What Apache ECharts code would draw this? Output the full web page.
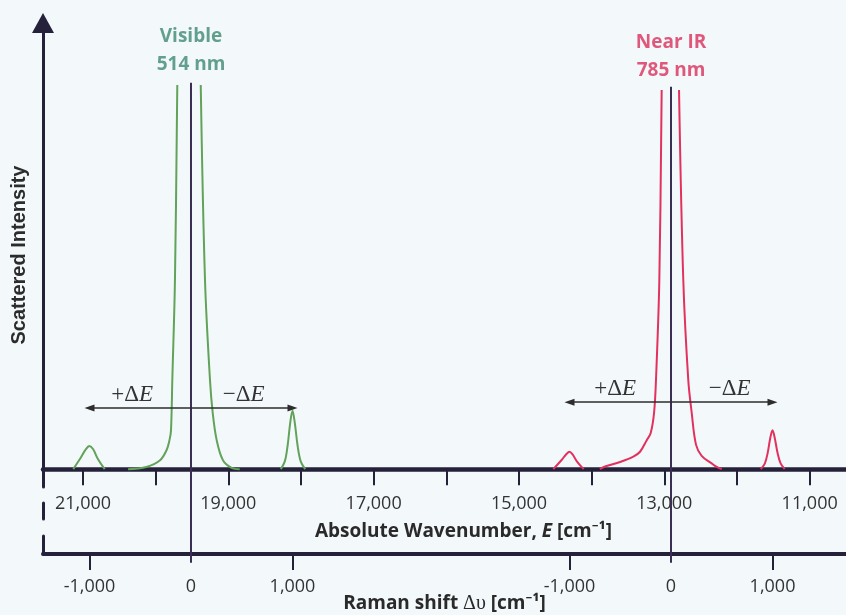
<!DOCTYPE html>
<html>
<head>
<meta charset="utf-8">
<script src="https://cdn.jsdelivr.net/npm/echarts@6/dist/echarts.min.js"></script>
<style>
  html, body { margin: 0; padding: 0; background: #f3f9fb; }
  #chart { width: 846px; height: 615px; }
</style>
</head>
<body>
<div id="chart"></div>
<script>
// Absolute wavenumber axis (cm^-1): tick marks every 1000, labels every 2000
const absoluteTicks = [21000, 20000, 19000, 18000, 17000, 16000, 15000, 14000, 13000, 12000, 11000];
const absoluteLabels = [21000, 19000, 17000, 15000, 13000, 11000];

// Raman shift axis (cm^-1), one copy centred on each laser line
const ramanTicks = [-1000, 1000];
const ramanLabels = [-1000, 0, 1000];

// Laser lines: label, top and bottom of the drawn line (intensity units)
const laserNames = ['Visible\n514 nm', 'Near IR\n785 nm'];
const laserTop = [86.6, 85.7];
const laserBottom = [-21, -21];

// Visible (514 nm) scattered spectrum vs Raman shift; null leaves a gap
const visibleShift = [-1160, -1085, -1035, -1000, -965, -920, -850, -735,
  -620, -440, -305, -240, -212, -197, -184, -158, -135, -20,
  96, 138, 187, 214, 253, 315, 400, 480, 680,
  885, 925, 952, 978, 1000, 1022, 1050, 1080, 1125];
const visibleIntensity = [0, 2.6, 4.5, 5.2, 4.5, 2.4, 0, null,
  0, 0.5, 2.0, 4.3, 6.5, 8.7, 20, 42.4, 86.1, null,
  86.1, 42.4, 20, 12.6, 6.5, 2.0, 0.3, 0, null,
  0, 1.8, 5.3, 10.5, 13.1, 10.5, 5.3, 1.8, 0];

// Near-IR (785 nm) scattered spectrum vs Raman shift
const nirShift = [-1160, -1080, -1030, -1000, -970, -920, -860, -780,
  -700, -650, -502, -371, -305, -239, -200, -167, -148, -115, -92, -5,
  79, 121, 170, 204, 246, 302, 400, 450, 500, 680,
  885, 925, 952, 978, 1000, 1022, 1050, 1080, 1120];
const nirIntensity = [0, 2.0, 3.4, 3.9, 3.3, 1.5, 0, null,
  0, 0.6, 1.6, 2.8, 3.9, 6.5, 8.1, 12.6, 20, 42.4, 85.0, null,
  85.0, 42.4, 20, 12.6, 5.5, 3.0, 1.3, 0.5, 0, null,
  0, 1.3, 3.6, 7.0, 8.7, 7.0, 3.6, 1.3, 0];

// Heights of the ±ΔE double arrows
const arrowLevel = [13.7, 15.0];
const arrowSpan = [-1000, 0, 1000];

const axisColor = '#26213a';
const laserColor = '#3a2f52';
const greenLine = '#62a25a';
const redLine = '#e3315f';
const greenText = '#3f8872';
const redText = '#d92f5c';
const ink = '#333333';
const sans = '"Open Sans", "Noto Sans", sans-serif';
const serif = '"Liberation Serif", "DejaVu Serif", serif';

const withCommas = v => String(Math.round(v)).replace(/\B(?=(\d{3})+(?!\d))/g, ',');
const pairs = (xs, ys) => xs.map((x, i) => [x, ys[i] == null ? '-' : ys[i]]);

function deltaArrows(level, shiftLeft, shiftRight) {
  const deltaRich = {
    n: { fontFamily: serif, fontSize: 23, color: '#333' },
    i: { fontFamily: serif, fontSize: 23, fontStyle: 'italic', color: '#333' }
  };
  return {
    silent: true,
    symbolSize: [7, 10],
    lineStyle: { color: '#2d2d2d', width: 1.5, type: 'solid' },
    label: { show: true, position: 'middle', distance: 2, rich: deltaRich },
    emphasis: { disabled: true },
    data: [
      [
        { coord: [arrowSpan[0], level], symbol: 'triangle',
          label: { formatter: '{n|+Δ}{i|E}', offset: [shiftLeft, 0] } },
        { coord: [arrowSpan[1], level], symbol: 'none' }
      ],
      [
        { coord: [arrowSpan[1], level], symbol: 'none',
          label: { formatter: '{n|−Δ}{i|E}', offset: [shiftRight, 0] } },
        { coord: [arrowSpan[2], level], symbol: 'triangle' }
      ]
    ]
  };
}

function spectrum(axisIndex, xs, ys, color, level, shiftLeft, shiftRight) {
  return {
    type: 'line',
    xAxisIndex: axisIndex,
    yAxisIndex: 0,
    data: pairs(xs, ys),
    smooth: 0.35,
    showSymbol: false,
    connectNulls: false,
    lineStyle: { color: color, width: 2 },
    itemStyle: { color: color },
    z: 3,
    markLine: deltaArrows(level, shiftLeft, shiftRight)
  };
}

function laserLine(axisIndex, k) {
  return {
    type: 'line',
    xAxisIndex: axisIndex,
    yAxisIndex: 0,
    data: [[0, laserTop[k]], [0, laserBottom[k]]],
    showSymbol: false,
    clip: false,
    lineStyle: { color: laserColor, width: 2 },
    z: 4
  };
}

function laserLabel(axisIndex, k, color, dist) {
  return {
    type: 'scatter',
    xAxisIndex: axisIndex,
    yAxisIndex: 0,
    data: [[0, laserTop[k]]],
    symbolSize: 0,
    silent: true,
    label: {
      show: true,
      position: 'top',
      distance: dist,
      formatter: laserNames[k],
      color: color,
      fontFamily: sans,
      fontWeight: 'bold',
      fontSize: 19,
      lineHeight: 28,
      align: 'center'
    }
  };
}

const ramanAxisBase = {
  type: 'value',
  gridIndex: 0,
  position: 'bottom',
  offset: 67,
  splitLine: { show: false },
  axisTick: {
    show: true, customValues: ramanTicks, length: 16,
    lineStyle: { color: axisColor, width: 2 }
  },
  axisLabel: {
    show: true, customValues: ramanLabels, formatter: withCommas,
    margin: 24, fontSize: 18, color: ink, fontFamily: sans
  }
};

const plainAxisLine = { show: true, onZero: false, lineStyle: { color: axisColor, width: 3 } };

const option = {
  backgroundColor: '#f3f9fb',
  animation: false,
  grid: [
    { left: 43, right: 0, top: 23, bottom: 128, outerBoundsMode: 'none' },
    { left: 43, right: 0, top: 503, bottom: 96, outerBoundsMode: 'none' },
    { left: 43, right: 0, top: 536, bottom: 61, outerBoundsMode: 'none' }
  ],
  xAxis: [
    {
      type: 'value',
      gridIndex: 0,
      position: 'bottom',
      inverse: true,
      min: 10500,
      max: 21550,
      splitLine: { show: false },
      axisLine: { show: true, onZero: true, lineStyle: { color: axisColor, width: 4.5 } },
      axisTick: {
        show: true, customValues: absoluteTicks, length: 16,
        lineStyle: { color: axisColor, width: 2 }
      },
      axisLabel: {
        show: true, customValues: absoluteLabels, formatter: withCommas,
        margin: 8, fontSize: 18, color: ink, fontFamily: sans
      },
      name: 'Absolute Wavenumber, {i|E} [cm⁻¹]',
      nameLocation: 'middle',
      nameGap: 35,
      nameMoveOverlap: false,
      nameTextStyle: {
        fontFamily: sans, fontWeight: 'bold', fontSize: 19, color: '#2a2a2a',
        padding: [0, 0, 0, 38],
        rich: { i: { fontFamily: sans, fontWeight: 'bold', fontStyle: 'italic', fontSize: 19, color: '#2a2a2a' } }
      }
    },
    Object.assign({}, ramanAxisBase, {
      min: -1458,
      max: 6453,
      axisLine: { show: true, onZero: false, lineStyle: { color: axisColor, width: 4 } },
      name: 'Raman shift {g|Δυ} [cm⁻¹]',
      nameLocation: 'middle',
      nameGap: 40,
      nameMoveOverlap: false,
      nameTextStyle: {
        fontFamily: sans, fontWeight: 'bold', fontSize: 19, color: '#2a2a2a',
        rich: { g: { fontFamily: serif, fontWeight: 'normal', fontSize: 20, color: '#2a2a2a' } }
      }
    }),
    Object.assign({}, ramanAxisBase, {
      min: -6187,
      max: 1724,
      axisLine: { show: false, onZero: false }
    }),
    { type: 'value', gridIndex: 1, show: false },
    { type: 'value', gridIndex: 2, show: false }
  ],
  yAxis: [
    {
      type: 'value',
      gridIndex: 0,
      min: -4,
      max: 100,
      splitLine: { show: false },
      axisTick: { show: false },
      axisLabel: { show: false },
      axisLine: {
        show: true, onZero: false,
        symbol: ['none', 'triangle'], symbolSize: [22, 20],
        lineStyle: { color: axisColor, width: 3 }
      },
      name: 'Scattered Intensity',
      nameLocation: 'middle',
      nameRotate: 90,
      nameGap: 14,
      nameMoveOverlap: false,
      nameTextStyle: { fontFamily: '"Liberation Sans", Arial, sans-serif', fontWeight: 'bold', fontSize: 20, color: '#2c2c2c' }
    },
    {
      type: 'value', gridIndex: 1, min: 0, max: 1,
      splitLine: { show: false }, axisTick: { show: false }, axisLabel: { show: false },
      axisLine: plainAxisLine
    },
    {
      type: 'value', gridIndex: 2, min: 0, max: 1,
      splitLine: { show: false }, axisTick: { show: false }, axisLabel: { show: false },
      axisLine: plainAxisLine
    }
  ],
  series: [
    spectrum(1, visibleShift, visibleIntensity, greenLine, arrowLevel[0], -8, 2),
    spectrum(2, nirShift, nirIntensity, redLine, arrowLevel[1], -5, 8),
    laserLine(1, 0),
    laserLine(2, 1),
    laserLabel(1, 0, greenText, 4),
    laserLabel(2, 1, redText, 2)
  ]
};

const chart = echarts.init(document.getElementById('chart'), null, { renderer: 'canvas' });
chart.setOption(option);
</script>
</body>
</html>
